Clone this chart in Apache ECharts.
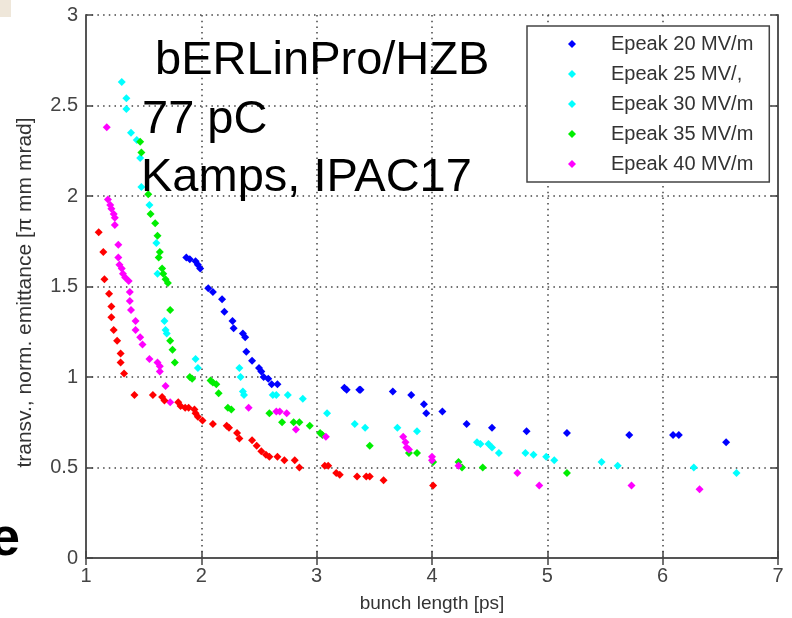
<!DOCTYPE html>
<html>
<head>
<meta charset="utf-8">
<script src="https://cdn.jsdelivr.net/npm/echarts@6/dist/echarts.min.js"></script>
<style>html,body{margin:0;padding:0;background:#fff;}#c{width:792px;height:618px;}</style>
</head>
<body>
<div id="c"></div>
<script>
// ---- data (bunch length [ps], emittance [pi mm mrad]) ----
const xTicks = [1, 2, 3, 4, 5, 6, 7];
const yTicks = [0, 0.5, 1, 1.5, 2, 2.5, 3];
const seriesNames = ['Epeak 20 MV/m', 'Epeak 25 MV/,', 'Epeak 30 MV/m', 'Epeak 35 MV/m', 'Epeak 40 MV/m', 'Epeak 45 MV/m'];
const legendNames = ['Epeak 20 MV/m', 'Epeak 25 MV/,', 'Epeak 30 MV/m', 'Epeak 35 MV/m', 'Epeak 40 MV/m'];
const annotations = ['bERLinPro/HZB', '77 pC', 'Kamps, IPAC17'];

const e20 = [[1.87,1.66],[1.90,1.65],[1.95,1.64],[1.97,1.62],[1.99,1.60],[2.06,1.49],[2.10,1.47],[2.18,1.43],[2.20,1.36],[2.27,1.31],[2.28,1.27],[2.36,1.24],[2.38,1.22],[2.39,1.14],[2.44,1.09],[2.50,1.05],[2.52,1.03],[2.54,1.00],[2.58,0.99],[2.61,0.96],[2.66,0.96],[3.24,0.94],[3.26,0.93],[3.37,0.93],[3.38,0.93],[3.66,0.92],[3.82,0.90],[3.93,0.85],[3.95,0.80],[4.09,0.81],[4.30,0.74],[4.52,0.72],[4.82,0.70],[5.17,0.69],[5.71,0.68],[6.09,0.68],[6.14,0.68],[6.55,0.64]];
const e25 = [[2.33,1.05],[2.34,1.00],[2.36,0.92],[2.37,0.90],[2.62,0.90],[2.65,0.90],[2.75,0.90],[2.88,0.88],[3.09,0.80],[3.33,0.74],[3.42,0.72],[3.70,0.72],[3.87,0.70],[4.39,0.64],[4.42,0.63],[4.49,0.63],[4.52,0.61],[4.58,0.58],[4.81,0.58],[4.88,0.57],[4.99,0.56],[5.06,0.54],[5.47,0.53],[5.61,0.51],[6.27,0.50],[6.64,0.47]];
const e30 = [[1.31,2.63],[1.35,2.54],[1.35,2.48],[1.39,2.35],[1.44,2.31],[1.47,2.21],[1.48,2.05],[1.55,1.95],[1.61,1.74],[1.62,1.57],[1.68,1.31],[1.69,1.26],[1.70,1.24],[1.95,1.10],[1.97,1.05]];
const e35 = [[1.47,2.30],[1.48,2.24],[1.54,2.01],[1.56,1.90],[1.60,1.85],[1.62,1.78],[1.64,1.69],[1.63,1.66],[1.66,1.60],[1.67,1.57],[1.69,1.54],[1.71,1.52],[1.73,1.37],[1.73,1.20],[1.75,1.15],[1.77,1.08],[1.90,1.00],[1.92,0.99],[2.08,0.98],[2.10,0.97],[2.13,0.96],[2.15,0.91],[2.23,0.83],[2.26,0.82],[2.59,0.80],[2.70,0.75],[2.80,0.75],[2.85,0.75],[2.94,0.73],[3.03,0.69],[3.05,0.68],[3.46,0.62],[3.80,0.58],[3.87,0.58],[4.01,0.53],[4.23,0.53],[4.26,0.50],[4.44,0.50],[5.17,0.47]];
const e40 = [[1.18,2.38],[1.19,1.98],[1.21,1.95],[1.22,1.93],[1.24,1.90],[1.25,1.88],[1.25,1.84],[1.28,1.73],[1.28,1.66],[1.29,1.62],[1.31,1.60],[1.32,1.57],[1.34,1.55],[1.37,1.53],[1.38,1.47],[1.38,1.42],[1.39,1.37],[1.43,1.31],[1.43,1.26],[1.47,1.22],[1.49,1.18],[1.55,1.10],[1.62,1.08],[1.64,1.06],[1.64,1.03],[1.69,0.95],[1.73,0.86],[2.41,0.83],[2.65,0.81],[2.68,0.81],[2.74,0.80],[2.82,0.71],[3.08,0.67],[3.75,0.67],[3.77,0.64],[3.78,0.61],[3.80,0.60],[4.00,0.56],[4.00,0.54],[4.23,0.51],[4.74,0.47],[4.93,0.40],[5.73,0.40],[6.32,0.38]];
const e45 = [[1.11,1.80],[1.15,1.69],[1.16,1.54],[1.20,1.46],[1.22,1.39],[1.22,1.33],[1.24,1.26],[1.27,1.20],[1.30,1.13],[1.30,1.08],[1.33,1.02],[1.42,0.90],[1.58,0.90],[1.66,0.89],[1.68,0.87],[1.80,0.86],[1.82,0.84],[1.86,0.83],[1.89,0.83],[1.94,0.82],[1.95,0.80],[1.97,0.78],[2.01,0.76],[2.10,0.74],[2.22,0.73],[2.24,0.72],[2.31,0.69],[2.33,0.66],[2.44,0.65],[2.48,0.62],[2.52,0.59],[2.56,0.57],[2.59,0.56],[2.66,0.56],[2.72,0.54],[2.81,0.54],[2.85,0.50],[3.07,0.51],[3.10,0.51],[3.17,0.47],[3.20,0.46],[3.35,0.45],[3.43,0.45],[3.46,0.45],[3.58,0.43],[4.01,0.40]];

const seriesData = [e20, e25, e30, e35, e40, e45];
const colors = ['#0000ff', '#00ffff', '#00ffff', '#00ee00', '#ff00ff', '#ff0000'];

const FONT = '"Liberation Sans", Arial, Helvetica, sans-serif';
const chart = echarts.init(document.getElementById('c'), null, {renderer: 'canvas'});

const axisCommon = {
  axisLine: {show: true, lineStyle: {color: '#555', width: 2}},
  axisTick: {show: true, inside: true, length: 7, lineStyle: {color: '#444', width: 1.5}},
};

const option = {
  animation: false,
  backgroundColor: '#fff',
  grid: {left: 86, right: 14, top: 15, bottom: 60, containLabel: false},
  legend: {
    data: legendNames,
    orient: 'vertical',
    left: 527, top: 26,
    padding: [8, 16, 8, 41],
    itemWidth: 8, itemHeight: 8, itemGap: 10,
    icon: 'diamond',
    backgroundColor: '#fff',
    borderColor: '#444', borderWidth: 1.5, borderRadius: 0,
    textStyle: {fontFamily: FONT, fontSize: 20, color: '#333', lineHeight: 19, padding: [0, 0, 0, 30]}
  },
  xAxis: [
    Object.assign({
      type: 'value', min: xTicks[0], max: xTicks[xTicks.length - 1], interval: 1,
      name: 'bunch length [ps]', nameLocation: 'middle', nameGap: 36,
      nameTextStyle: {fontFamily: FONT, fontSize: 19, color: '#333'},
      axisLabel: {fontFamily: FONT, fontSize: 20, color: '#444', margin: 8},
      splitLine: {show: true, lineStyle: {color: '#444', width: 1.5, type: [1.5, 4.2]}}
    }, axisCommon),
    Object.assign({
      type: 'value', position: 'top', min: xTicks[0], max: xTicks[xTicks.length - 1], interval: 1,
      axisLabel: {show: false}, splitLine: {show: false}
    }, axisCommon)
  ],
  yAxis: [
    Object.assign({
      type: 'value', min: yTicks[0], max: yTicks[yTicks.length - 1], interval: 0.5,
      name: 'transv., norm. emittance [\u03c0 mm mrad]', nameLocation: 'middle', nameGap: 50,
      nameTextStyle: {fontFamily: FONT, fontSize: 21, color: '#333', padding: [0, 12, 0, 0]},
      axisLabel: {fontFamily: FONT, fontSize: 20, color: '#444', margin: 8},
      splitLine: {show: true, lineStyle: {color: '#444', width: 1.5, type: [1.5, 4.2]}}
    }, axisCommon),
    Object.assign({
      type: 'value', position: 'right', min: yTicks[0], max: yTicks[yTicks.length - 1], interval: 0.5,
      axisLabel: {show: false}, splitLine: {show: false}
    }, axisCommon)
  ],
  series: seriesNames.map((n, i) => ({
    name: n, type: 'scatter', xAxisIndex: 0, yAxisIndex: 0,
    symbol: 'diamond', symbolSize: 8,
    itemStyle: {color: colors[i], opacity: 1},
    data: seriesData[i]
  })),
  graphic: [
    {type: 'rect', left: 0, top: 0, shape: {width: 11, height: 17}, style: {fill: '#efe7da'}, silent: true},
    {type: 'text', style: {x: 155, y: 61.5, text: annotations[0], font: '47px ' + FONT, fill: '#000', textVerticalAlign: 'middle'}, z: 100},
    {type: 'text', style: {x: 142, y: 120.5, text: annotations[1], font: '47px ' + FONT, fill: '#000', textVerticalAlign: 'middle'}, z: 100},
    {type: 'text', style: {x: 141, y: 178, text: annotations[2], font: '47px ' + FONT, fill: '#000', textVerticalAlign: 'middle'}, z: 100},
    {type: 'text', style: {x: 20, y: 540, text: 'e', font: 'bold 54px ' + FONT, fill: '#000', textAlign: 'right', textVerticalAlign: 'middle'}, z: 100}
  ]
};
chart.setOption(option);
</script>
</body>
</html>
